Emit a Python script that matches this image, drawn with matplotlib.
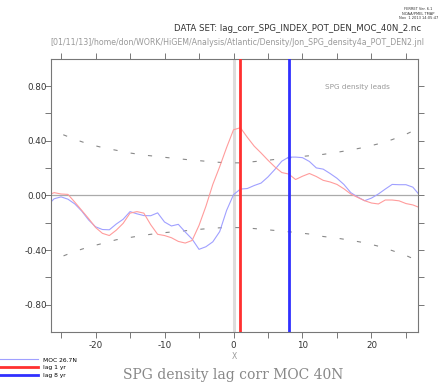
import numpy as np
import matplotlib
matplotlib.use('Agg')
import matplotlib.pyplot as plt

plt.rcParams['lines.scale_dashes'] = False

# lag (years)
lags = list(range(-27, 28))

# MOC 26.7N lag correlation (light blue)
moc_corr = [-0.075, -0.025, -0.011, -0.028, -0.063, -0.115, -0.18, -0.23, -0.25, -0.252,
            -0.21, -0.175, -0.119, -0.135, -0.148, -0.149, -0.128, -0.195, -0.224, -0.212,
            -0.268, -0.32, -0.395, -0.376, -0.34, -0.265, -0.11, 0.005, 0.046, 0.05,
            0.072, 0.09, 0.135, 0.19, 0.25, 0.28, 0.28, 0.276, 0.248, 0.201,
            0.192, 0.16, 0.125, 0.08, 0.02, -0.012, -0.039, -0.02, 0.01, 0.046,
            0.08, 0.078, 0.078, 0.06, 0.0]

# MOC 40N lag correlation (light red)
moc40_corr = [0.0, 0.02, 0.01, 0.007, -0.05, -0.11, -0.17, -0.235, -0.278, -0.294,
              -0.255, -0.205, -0.13, -0.119, -0.13, -0.215, -0.285, -0.294, -0.31, -0.337,
              -0.349, -0.33, -0.22, -0.08, 0.08, 0.21, 0.35, 0.48, 0.495, 0.425,
              0.36, 0.31, 0.257, 0.208, 0.167, 0.156, 0.116, 0.14, 0.16, 0.138,
              0.11, 0.098, 0.08, 0.048, 0.01, -0.015, -0.039, -0.056, -0.063, -0.034,
              -0.034, -0.04, -0.06, -0.07, -0.09]

# significance bounds
sig_lags = list(range(-27, 28, 2))
sig_upper = [0.495, 0.45, 0.41, 0.375, 0.35, 0.33, 0.31, 0.295, 0.284, 0.273,
             0.263, 0.254, 0.245, 0.238, 0.238, 0.247, 0.257, 0.269, 0.28, 0.29,
             0.3, 0.315, 0.332, 0.352, 0.377, 0.408, 0.447, 0.495]
sig_lower = [-0.49, -0.45, -0.41, -0.378, -0.352, -0.325, -0.308, -0.292, -0.278, -0.268,
             -0.259, -0.249, -0.24, -0.235, -0.236, -0.243, -0.252, -0.262, -0.271, -0.283,
             -0.301, -0.313, -0.329, -0.347, -0.372, -0.404, -0.44, -0.485]

lag1 = 1
lag8 = 8

fig = plt.figure(figsize=(4.42, 3.84), dpi=100)
ax = fig.add_axes([0.1147, 0.1354, 0.8303, 0.7117])

ax.axvline(0, color='#dddddd', lw=2.2, zorder=1)
ax.axhline(0, color='#aaaaaa', lw=0.9, zorder=1)

dash = (0, (3, 9.6))
ax.plot(sig_lags, sig_upper, color='#888888', lw=0.8, linestyle=dash)
ax.plot(sig_lags, sig_lower, color='#888888', lw=0.8, linestyle=dash)

moc_line, = ax.plot(lags, moc_corr, color='#a0a0ff', lw=0.8)
ax.plot(lags, moc40_corr, color='#ff9c9c', lw=0.8)

red_line = ax.axvline(lag1, color='#ff3030', lw=2.0, zorder=3)
blue_line = ax.axvline(lag8, color='#3030ff', lw=2.0, zorder=3)

ax.set_xlim(-26.5, 26.7)
ax.set_ylim(-1, 1)

xt = list(range(-25, 26, 5))
ax.set_xticks(xt)
ax.set_xticklabels([str(v) if v % 10 == 0 else '' for v in xt])
yt = [-0.8, -0.6, -0.4, -0.2, 0.0, 0.2, 0.4, 0.6, 0.8]
ax.set_yticks(yt)
ax.set_yticklabels(['%.2f' % v if round(v * 10) % 4 == 0 else '' for v in yt])

ax.tick_params(direction='out', length=4.2, width=0.7, color='#777777',
               labelsize=6.3, labelcolor='#333333', top=True, right=True)
ax.tick_params(axis='y', pad=-1.5)
ax.tick_params(axis='x', pad=2.5)
for s in ax.spines.values():
    s.set_color('#777777')
    s.set_linewidth(0.8)

ax.set_xlabel('X', fontsize=5.5, color='#999999', labelpad=1)
ax.text(18, 0.79, 'SPG density leads', fontsize=5.2, color='#999999', ha='center', va='center')

fig.text(0.5275, 0.023, 'SPG density lag corr MOC 40N', fontsize=10, family='DejaVu Serif',
         color='#888888', ha='center', va='center')
fig.text(0.953, 0.926, 'DATA SET: lag_corr_SPG_INDEX_POT_DEN_MOC_40N_2.nc', fontsize=6.2,
         color='#333333', ha='right', va='center')
fig.text(0.113, 0.889, '[01/11/13]/home/don/WORK/HiGEM/Analysis/Atlantic/Density/Jon_SPG_density4a_POT_DEN2.jnl',
         fontsize=5.7, color='#999999', ha='left', va='center')
fig.text(0.946, 0.982, 'FERRET Ver. 6.1\nNOAA/PMEL TMAP\nNov  1 2013 14:05:47', fontsize=2.6,
         color='#333333', ha='center', va='top', linespacing=1.2)

fig.legend([moc_line, red_line, blue_line], ['MOC 26.7N', 'lag 1 yr', 'lag 8 yr'],
           loc='lower left', bbox_to_anchor=(-0.005, 0.015), frameon=False, fontsize=4.3,
           handlelength=6.8, handletextpad=0.8, labelspacing=0.45, borderaxespad=0,
           borderpad=0)

fig.savefig('out.png', dpi=100)
